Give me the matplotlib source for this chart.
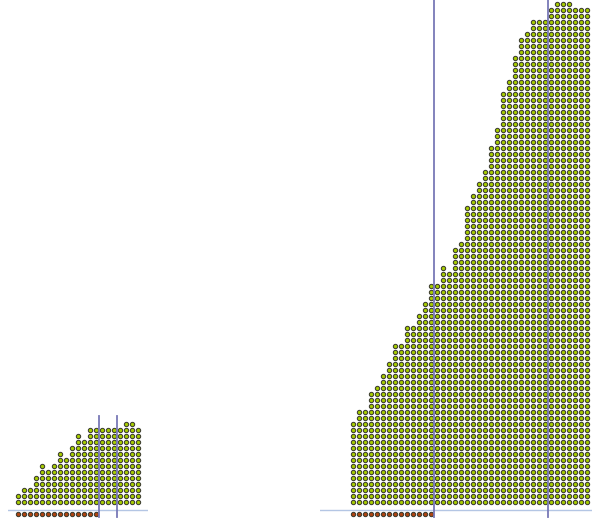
import matplotlib
matplotlib.use('Agg')
import matplotlib.pyplot as plt
import numpy as np

# Dot counts per column (one dot = one unit)
left_counts = [2, 3, 3, 5, 7, 6, 7, 9, 8, 10, 12, 11, 13, 13, 13, 13, 13, 13, 14, 14, 13]
right_counts = [14, 16, 16, 19, 20, 22, 24, 27, 27, 30, 30, 32, 34, 37, 37, 40, 39, 43,
                44, 50, 52, 54, 56, 60, 63, 69, 71, 75, 78, 79, 81, 81, 81, 83, 84, 84,
                84, 83, 83, 83]

# Dots below the baseline and the two marker lines (in column units)
left_below = 14
right_below = 14
left_marks = [14.5, 17.5]
right_marks = [14.5, 33.5]

DOT_FILL = '#a6cc00'
DOT_EDGE = '#3c3c30'
BELOW_FILL = '#b04410'
MARK_COLOR = '#7878b6'
BASE_COLOR = '#b4c6e4'

W, H = 602, 522


def dot_panel(ax, counts, below, marks):
    counts = np.asarray(counts)
    cols = np.arange(1, len(counts) + 1)
    xs = np.repeat(cols, counts)
    ys = np.concatenate([np.arange(1, c + 1) for c in counts])

    # baseline
    ax.axhline(-0.33, color=BASE_COLOR, lw=1.0, zorder=1)

    # marker lines
    top = counts.max() + 1.33
    for m in marks:
        ax.plot([m, m], [-1.55, top], color=MARK_COLOR, lw=1.3, zorder=3)

    ax.plot(xs, ys, 'o', ms=3.1, mew=0.75, mfc=DOT_FILL, mec=DOT_EDGE, zorder=2)

    bx = np.arange(1, below + 1)
    ax.plot(bx, np.full(below, -1.1), 'o', ms=3.1, mew=0.75, mfc=BELOW_FILL,
            mec=DOT_EDGE, zorder=2)

    ax.set_ylim(-2.38, 84.62)
    ax.set_axis_off()


fig = plt.figure(figsize=(W / 100, H / 100), dpi=100)

# left panel: 8px .. 148px, right panel: 320px .. 592px (6px per column)
ax1 = fig.add_axes([8 / W, 0, 140 / W, 1])
dot_panel(ax1, left_counts, left_below, left_marks)
ax1.set_xlim(-0.717, 22.617)

ax2 = fig.add_axes([320 / W, 0, 272 / W, 1])
dot_panel(ax2, right_counts, right_below, right_marks)
ax2.set_xlim(-4.55, 40.783)

fig.savefig('out.png', dpi=100)
plt.close()
